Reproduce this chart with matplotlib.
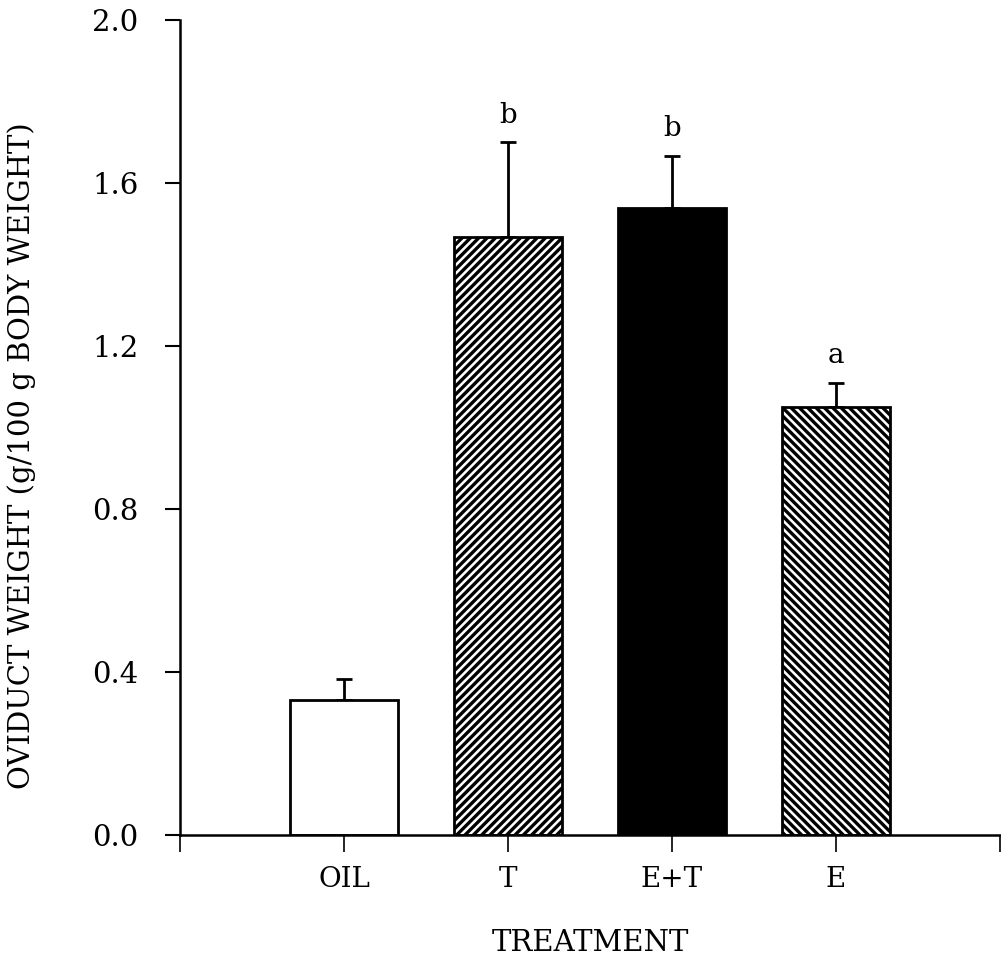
import matplotlib
matplotlib.use("Agg")
import matplotlib.pyplot as plt

# values
treatments = ["OIL", "T", "E+T", "E"]
means = [0.331, 1.467, 1.539, 1.050]
sems = [0.052, 0.233, 0.128, 0.060]
letters = ["", "b", "b", "a"]
fills = ["white", "white", "black", "white"]
hatches = [None, "////", None, "\\\\\\\\"]

plt.rcParams["font.family"] = ["DejaVu Serif"]
plt.rcParams["hatch.linewidth"] = 2.4
plt.rcParams["hatch.color"] = "black"

fig = plt.figure(figsize=(10.01, 9.67), dpi=100)
ax = fig.add_axes([180 / 1001, 132 / 967, 820 / 1001, 815 / 967])

x = [1, 2, 3, 4]
for xi, m, s, fc, h in zip(x, means, sems, fills, hatches):
    ax.bar(xi, m, width=0.66, color=fc, edgecolor="black", linewidth=2,
           hatch=h, zorder=2)
    ax.errorbar(xi, m, yerr=[[0], [s]], fmt="none", ecolor="black",
                elinewidth=2, capsize=6, capthick=2, zorder=1)

for xi, m, s, lab in zip(x, means, sems, letters):
    if lab:
        ax.annotate(lab, (xi, m + s), xytext=(0, 14), textcoords="offset points",
                    ha="center", va="baseline", fontsize=20)

ax.set_xlim(0, 5)
ax.set_ylim(0, 2.0)
ax.set_xticks([0, 1, 2, 3, 4, 5])
ax.set_xticklabels([""] + treatments + [""])
ax.set_yticks([0.0, 0.4, 0.8, 1.2, 1.6, 2.0])
ax.set_yticklabels(["0.0", "0.4", "0.8", "1.2", "1.6", "2.0"])

ax.spines["top"].set_visible(False)
ax.spines["right"].set_visible(False)
ax.spines["left"].set_linewidth(1.8)
ax.spines["bottom"].set_linewidth(1.8)
ax.tick_params(axis="y", direction="out", length=11, width=1.5,
               labelsize=21, pad=19)
ax.tick_params(axis="x", direction="out", length=12, width=1.2,
               labelsize=20, pad=10)

ax.set_ylabel("OVIDUCT WEIGHT (g/100 g BODY WEIGHT)", fontsize=21,
              va="center")
ax.yaxis.set_label_coords(-0.193, 0.466)
ax.set_xlabel("TREATMENT", fontsize=21, va="center")
ax.xaxis.set_label_coords(0.5, -0.1325)

fig.savefig("out.png", dpi=100)
